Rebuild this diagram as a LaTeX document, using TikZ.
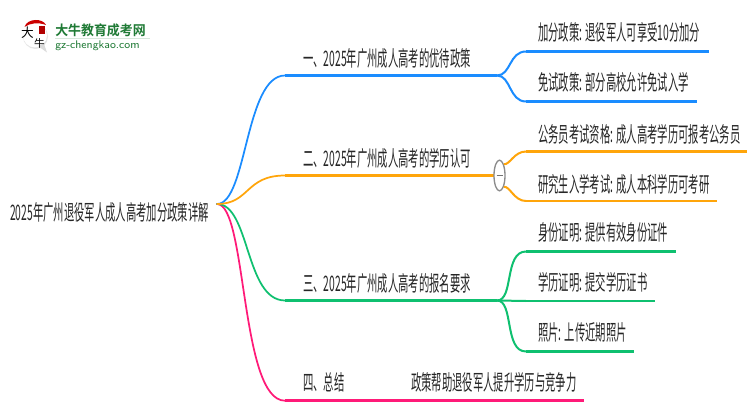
\documentclass[tikz,border=0pt]{standalone}
\usepackage{fontspec}
\usetikzlibrary{shapes.geometric}
\setmainfont{Noto Sans CJK SC}
\newfontfamily\cnn[FakeStretch=0.484]{Noto Sans CJK SC}
\newfontfamily\cnb[FakeStretch=0.95]{Noto Sans CJK SC Bold}
\definecolor{cblue}{HTML}{1A8CFF}
\definecolor{corange}{HTML}{FFA50A}
\definecolor{cgreen}{HTML}{0FC070}
\definecolor{cpink}{HTML}{FF1A78}
\definecolor{ctext}{HTML}{262626}
\definecolor{clogo}{HTML}{1F7A35}
\tikzset{
  lbl/.style={inner sep=0pt,anchor=west,text=ctext,font=\cnn\fontsize{16}{16}\selectfont},
  branch/.style={line width=1.3pt,line cap=round},
  bar/.style={line width=2pt},
  leaf/.style={line width=1.9pt},
  leafc/.style={line width=1.5pt},
}
\begin{document}
\begin{tikzpicture}[x=0.75pt,y=-0.75pt]
\useasboundingbox (0,0) rectangle (750,410);
\fill[white] (0,0) rectangle (750,410);
% logo
\fill[black!10] (35.5,36.5) circle[radius=12.5];
\fill[white] (35,35.5) circle[radius=12];
\fill[black!14] (38,46) -- (47,52.5) -- (44,44) -- cycle;
\fill[red!80!black] (24.5,27) .. controls (27,18) and (43,18) .. (46,25) .. controls (38,22) and (30,23) .. (24.5,27) -- cycle;
\fill[red!70!black] (39,26) rectangle (45,34);
\node[inner sep=0pt,font=\fontsize{9.5}{9.5}\selectfont,text=black] (logoa) at (27.5,33) {大};
\node[inner sep=0pt,font=\fontsize{8}{8}\selectfont,text=black] (logob) at (39.5,43) {牛};
\node[inner sep=0pt,anchor=west,text=clogo,font=\cnb\fontsize{10.2}{10.2}\selectfont] (logoc) at (55,30) {大牛教育成考网};
\fill[clogo!18] (55,38) rectangle (150,39.5);
\node[inner sep=0pt,anchor=west,text=clogo,font=\sffamily\fontsize{8.3}{8.3}\selectfont] (logod) at (55,45.5) {gz-chengkao.com};
% labels
\node[lbl] (root) at (10,212) {2025年广州退役军人成人高考加分政策详解};
\node[lbl] (n1) at (303,58) {一、2025年广州成人高考的优待政策};
\node[lbl] (n2) at (303,158) {二、2025年广州成人高考的学历认可};
\node[lbl] (n3) at (303,283) {三、2025年广州成人高考的报名要求};
\node[lbl] (n4) at (303,382) {四、总结};
\node[lbl] (n4a) at (411,382) {政策帮助退役军人提升学历与竞争力};
\node[lbl] (a1) at (538,32) {加分政策: 退役军人可享受10分加分};
\node[lbl] (a2) at (538,82) {免试政策: 部分高校允许免试入学};
\node[lbl] (b1) at (538,134) {公务员考试资格: 成人高考学历可报考公务员};
\node[lbl] (b2) at (538,184) {研究生入学考试: 成人本科学历可考研};
\node[lbl] (c1) at (538,232) {身份证明: 提供有效身份证件};
\node[lbl] (c2) at (538,282) {学历证明: 提交学历证书};
\node[lbl] (c3) at (538,332) {照片: 上传近期照片};
% junctions
\coordinate (r) at (217,204);
\coordinate (s1) at (285,75.5); \coordinate (e1) at (497,75.5);
\coordinate (s2) at (285,175.5); \coordinate (e2) at (494,175.5);
\coordinate (s3) at (285,300.5); \coordinate (e3) at (497,300.5);
\coordinate (s4) at (285,400.7); \coordinate (e4) at (584,400.7);
\coordinate (a1s) at (526,51.5); \coordinate (a1e) at (709,51.5);
\coordinate (a2s) at (526,101.5); \coordinate (a2e) at (697,101.5);
\coordinate (b1s) at (526,151.5); \coordinate (b1e) at (747,151.5);
\coordinate (b2s) at (526,201); \coordinate (b2e) at (717,201);
\coordinate (c1s) at (526,251.5); \coordinate (c1e) at (676,251.5);
\coordinate (c2s) at (526,301); \coordinate (c2e) at (655,301);
\coordinate (c3s) at (526,351.5); \coordinate (c3e) at (634,351.5);
% branches
\draw[branch,cpink] (r) .. controls (247,204) and (240,400.7) .. (s4);
\draw[bar,cpink] (s4) -- (e4);
\draw[branch,cgreen] (r) .. controls (250,204) and (245,300.5) .. (s3);
\draw[bar,cgreen] (s3) -- (e3);
\draw[branch,cblue] (r) .. controls (247,204) and (245,75.5) .. (s1);
\draw[bar,cblue] (s1) -- (e1);
\draw[branch,corange] (r) .. controls (250,204) and (245,175.5) .. (s2);
\draw[bar,corange] (s2) -- (e2);
% leaves
\foreach \s/\e/\c in {a1s/a1e/cblue,a2s/a2e/cblue,c1s/c1e/cgreen,c2s/c2e/cgreen,c3s/c3e/cgreen}{
  \draw[leaf,\c] (\s) -- (\e);
}
\draw[leafc,cblue] (e1) .. controls (511,75.5) and (509,51.5) .. (a1s);
\draw[leafc,cblue] (e1) .. controls (511,75.5) and (509,101.5) .. (a2s);
\draw[leafc,cgreen] (e3) .. controls (514,300.5) and (504,251.5) .. (c1s);
\draw[leafc,cgreen] (e3) -- (c2s);
\draw[leafc,cgreen] (e3) .. controls (514,300.5) and (504,351.5) .. (c3s);
\node[draw=black!45,fill=white,line width=1pt,ellipse,inner sep=0pt,minimum width=8.25pt,minimum height=23pt] (col) at (499.5,175.5) {};
\draw[leafc,corange] (col.north east) .. controls (510,165) and (514,151.5) .. (b1s);
\draw[leafc,corange] (col.south east) .. controls (510,186) and (514,201) .. (b2s);
\draw[leaf,corange] (b1s) -- (b1e);
\draw[leaf,corange] (b2s) -- (b2e);
\draw[black!55,line width=1pt] (col.center) ++(-3,0) -- ++(6,0);
\end{tikzpicture}
\end{document}
